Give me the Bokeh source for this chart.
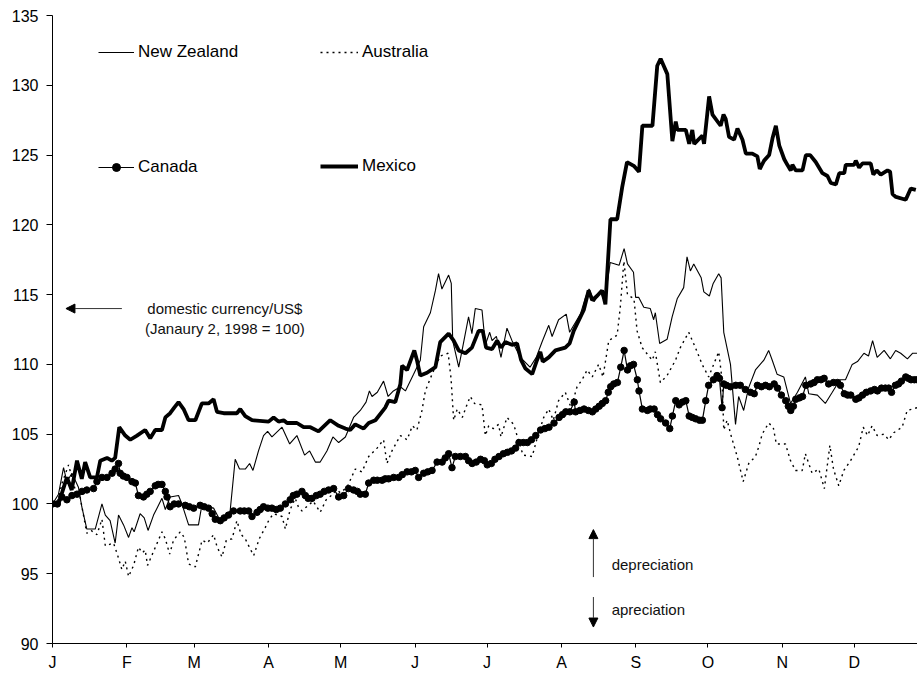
from bokeh.plotting import figure
from bokeh.models import Range1d, FixedTicker, Legend, LegendItem, Arrow, NormalHead, Label
from bokeh.embed import file_html
from bokeh.resources import INLINE

# ---------------- data (1998, day of year counted from Jan 1 = 0) ----------------
month_labels = ["J", "F", "M", "A", "M", "J", "J", "A", "S", "O", "N", "D"]
month_start = [0, 31, 59, 90, 120, 151, 181, 212, 243, 273, 304, 334]
y_ticks = [90, 95, 100, 105, 110, 115, 120, 125, 130, 135]

nz_day = [0, 2.5, 4.6, 6.0, 8.1, 10.8, 12.2, 14.3, 17.8, 20.6, 22.0, 24.0, 26.1, 27.5, 29.6, 31.7,
          33.1, 34.0, 36.5, 38.2, 39.8, 42.1, 45.6, 47.0, 49.0, 52.5, 53.9, 56.7, 60.8, 62.2, 67.1,
          69.9, 72.7, 74.0, 76.1, 77.9, 80.3, 82.1, 83.5, 85.8, 87.9, 89.6, 91.4, 95.6, 98.8, 101.8,
          105.0, 107.1, 109.5, 111.5, 114.3, 116.8, 119.2, 122.0, 125.4, 128.2, 130.6, 132.0, 133.1,
          135.3, 137.9, 139.8, 142.0, 144.9, 147.0, 150.4, 153.2, 154.6, 157.4, 159.5, 160.8, 162.2,
          165.0, 166.1, 166.7, 169.2, 170.6, 173.3, 174.7, 176.1, 178.9, 180.3, 182.1, 183.1, 184.9,
          186.8, 189.3, 191.4, 194.9, 198.9, 201.5, 203.9, 206.7, 208.1, 210.8, 214.0, 215.4, 217.8,
          219.9, 222.0, 223.5, 225.6, 228.3, 229.9, 232.3, 236.0, 238.1, 239.5, 242.0, 242.9, 244.2,
          246.3, 249.0, 250.4, 251.1, 252.9, 256.0, 258.1, 260.2, 262.9, 264.3, 265.7, 267.1, 270.2,
          271.3, 273.6, 275.2, 277.5, 278.5, 279.6, 282.4, 284.5, 285.8, 287.9, 289.9, 292.8, 296.3,
          298.3, 299.8, 301.8, 304.6, 307.4, 310.3, 313.6, 315.0, 318.6, 321.9, 324.8, 328.0, 330.3,
          333.1, 335.3, 338.0, 339.9, 341.6, 343.5, 346.4, 349.0, 351.2, 353.3, 356.1, 358.3, 360.2]
nz_val = [100.0, 100.7, 102.6, 101.6, 102.2, 101.2, 99.8, 98.2, 98.2, 100.0, 99.2, 98.8, 97.2, 99.2,
          98.5, 97.6, 98.3, 98.0, 99.3, 99.0, 98.1, 99.2, 100.4, 99.6, 100.5, 100.6, 100.0, 98.5, 98.5,
          99.9, 99.7, 98.8, 99.2, 99.5, 103.2, 102.5, 102.5, 102.9, 102.4, 103.8, 104.9, 105.2, 104.8,
          105.5, 104.3, 104.9, 103.5, 103.8, 103.0, 103.0, 103.8, 104.8, 104.4, 104.8, 106.2, 106.7,
          107.3, 108.1, 107.7, 108.0, 108.8, 107.7, 108.1, 108.4, 108.1, 109.3, 110.3, 112.7, 113.7,
          115.3, 116.5, 115.4, 116.4, 115.8, 111.7, 109.8, 111.0, 113.4, 112.2, 114.0, 113.9, 111.4,
          112.3, 111.7, 112.0, 110.5, 112.6, 111.7, 110.5, 109.8, 110.5, 111.6, 112.8, 112.0, 113.2,
          113.6, 112.3, 113.0, 113.6, 114.8, 115.4, 114.5, 115.2, 114.5, 117.3, 117.1, 118.3, 117.2,
          116.6, 114.8, 114.8, 114.1, 114.0, 113.2, 113.7, 111.5, 111.8, 113.4, 114.7, 115.5, 117.7,
          116.7, 117.2, 116.2, 115.2, 114.9, 115.8, 116.5, 116.2, 112.3, 110.0, 105.7, 107.7, 106.7,
          108.3, 109.6, 110.3, 111.0, 110.3, 109.3, 109.1, 107.2, 108.0, 109.1, 107.9, 107.8, 107.2,
          108.0, 108.9, 108.9, 110.0, 110.2, 110.8, 110.6, 111.7, 110.5, 111.0, 110.4, 111.0, 110.8,
          110.4, 110.8, 110.8]

au_day = [0, 2.4, 4.0, 6.7, 8.2, 9.5, 11.5, 14.3, 16.1, 18.5, 20.6, 22.0, 25.4, 27.0, 28.9, 30.3,
          31.7, 33.8, 35.8, 37.4, 38.6, 39.6, 42.1, 45.6, 47.0, 48.8, 50.4, 53.2, 54.9, 56.7, 59.5,
          62.3, 64.5, 67.1, 68.6, 70.6, 72.4, 74.8, 76.8, 78.6, 80.3, 82.0, 83.8, 86.1, 88.6, 90.3,
          92.1, 95.6, 97.0, 99.0, 101.1, 102.4, 103.9, 106.5, 108.6, 111.5, 114.0, 116.1, 118.5,
          119.9, 122.7, 124.0, 126.1, 128.9, 131.7, 135.2, 137.9, 139.3, 141.4, 144.9, 147.7, 149.9,
          151.8, 153.9, 155.3, 158.1, 161.5, 164.8, 166.0, 167.1, 168.6, 170.7, 172.4, 174.0, 175.8,
          178.9, 180.3, 181.7, 183.6, 185.8, 186.8, 189.3, 192.1, 193.5, 196.0, 199.8, 202.0, 204.6,
          206.7, 208.6, 210.8, 213.6, 216.0, 218.5, 220.6, 222.7, 224.8, 227.5, 229.3, 231.7, 235.2,
          236.5, 238.0, 239.5, 242.2, 243.5, 245.6, 249.8, 251.1, 253.2, 256.0, 259.5, 261.5, 265.0,
          267.8, 270.6, 273.3, 275.4, 277.5, 278.9, 279.6, 281.0, 282.8, 285.2, 287.7, 290.0, 292.8,
          294.2, 295.6, 298.3, 300.2, 301.5, 303.2, 305.3, 307.4, 309.5, 312.3, 313.6, 316.4, 319.2,
          321.5, 323.8, 325.3, 327.5, 329.6, 332.4, 335.8, 337.7, 339.5, 341.4, 343.5, 346.3, 348.3,
          350.4, 353.9, 356.0, 358.1, 360.2]
au_val = [100.0, 100.3, 101.5, 102.8, 101.8, 101.0, 100.5, 97.9, 98.1, 97.8, 98.9, 97.0, 97.2, 96.4,
          95.3, 95.9, 94.8, 95.6, 96.9, 96.5, 96.7, 95.6, 96.6, 98.0, 97.5, 96.4, 97.4, 98.0, 97.6,
          95.7, 95.5, 97.4, 97.2, 97.8, 96.9, 96.2, 97.4, 97.5, 98.8, 97.8, 97.5, 96.9, 96.3, 97.5,
          98.3, 98.9, 99.3, 99.1, 98.2, 99.6, 100.4, 99.8, 99.5, 99.9, 100.2, 99.4, 100.3, 100.6,
          101.0, 100.8, 101.2, 101.7, 102.5, 102.3, 103.4, 104.0, 104.6, 102.9, 103.8, 104.9, 104.6,
          105.6, 105.3, 106.7, 108.1, 109.3, 110.6, 110.8, 109.0, 106.0, 106.8, 106.2, 107.0, 107.7,
          107.2, 107.1, 104.9, 105.6, 105.4, 105.7, 104.8, 106.2, 105.7, 104.9, 103.5, 103.4, 104.8,
          106.2, 106.8, 106.0, 107.4, 108.0, 106.9, 108.4, 108.9, 109.6, 109.1, 110.0, 109.1, 111.7,
          112.1, 114.1, 117.4, 115.0, 114.7, 112.4, 111.2, 110.3, 110.9, 108.7, 109.2, 110.3, 111.2,
          112.3, 111.2, 110.0, 109.1, 110.0, 110.9, 108.9, 105.3, 106.0, 104.8, 103.4, 101.6, 102.9,
          103.4, 104.1, 105.0, 105.8, 105.5, 104.3, 104.3, 104.3, 103.1, 102.4, 102.4, 103.6, 102.2,
          102.5, 101.1, 104.2, 102.5, 101.3, 102.4, 103.1, 104.1, 105.5, 104.9, 105.6, 104.9, 105.0,
          104.6, 105.1, 105.5, 106.7, 106.8, 106.9]

ca_day = [0, 2.0, 3.9, 6.0, 8.1, 10.2, 12.3, 14.3, 17.1, 18.5, 20.6, 22.7, 24.8, 26.1, 27.5, 28.2,
          29.5, 31.0, 33.1, 34.5, 35.8, 37.9, 39.3, 40.7, 42.8, 44.0, 45.6, 47.0, 47.7, 49.0, 50.7,
          52.5, 55.3, 57.0, 58.8, 61.5, 63.2, 65.0, 66.5, 67.8, 69.9, 71.5, 73.3, 75.4, 78.2, 79.9,
          81.7, 83.1, 85.2, 86.5, 87.9, 89.7, 91.4, 93.2, 94.9, 97.0, 99.0, 100.3, 101.8, 103.9,
          105.3, 106.5, 108.1, 109.9, 111.5, 113.2, 115.0, 117.1, 119.2, 121.3, 123.3, 125.4, 127.0,
          128.2, 130.3, 131.7, 133.8, 135.3, 137.3, 138.6, 140.0, 142.1, 144.2, 145.7, 147.7, 149.5,
          151.1, 152.5, 154.6, 156.3, 158.1, 160.2, 162.3, 163.6, 165.0, 166.4, 167.8, 169.9, 172.0,
          173.3, 174.8, 176.5, 178.3, 179.9, 181.1, 182.8, 184.3, 186.0, 187.8, 189.5, 191.2, 192.9,
          194.3, 196.1, 197.8, 199.5, 201.3, 203.3, 205.1, 206.8, 208.9, 211.0, 212.4, 213.8, 215.5,
          217.3, 217.9, 219.7, 221.4, 223.2, 224.9, 226.3, 227.7, 229.0, 230.4, 231.5, 232.5, 233.8,
          235.3, 236.7, 238.1, 239.5, 240.7, 242.0, 243.6, 244.3, 245.7, 247.8, 249.0, 250.6, 252.0,
          253.3, 255.4, 257.1, 258.2, 259.6, 261.0, 262.4, 263.8, 265.2, 266.5, 267.9, 269.5, 270.7,
          272.1, 273.3, 275.3, 276.8, 277.8, 278.9, 279.6, 280.7, 282.4, 284.6, 286.5, 288.6, 290.7,
          292.3, 293.6, 295.3, 297.0, 298.6, 300.6, 302.0, 303.6, 305.4, 306.5, 307.5, 308.6, 309.6,
          311.1, 312.4, 313.8, 315.8, 317.2, 318.6, 320.1, 321.4, 323.3, 325.3, 327.0, 328.2, 329.8,
          331.2, 332.5, 334.6, 335.9, 337.4, 339.0, 340.8, 342.4, 343.6, 345.3, 346.9, 348.3, 349.5,
          351.1, 352.4, 353.6, 355.4, 356.5, 357.6, 359.0, 360.2]
ca_val = [100.0, 100.0, 100.5, 100.3, 100.6, 100.7, 100.9, 101.0, 101.1, 101.6, 101.9, 101.9, 102.2,
          102.5, 102.9, 102.2, 102.0, 101.9, 101.6, 101.5, 100.6, 100.5, 100.7, 100.9, 101.3, 101.4,
          101.4, 100.9, 100.5, 99.8, 100.0, 100.0, 99.9, 99.8, 99.7, 99.9, 99.8, 99.7, 99.3, 98.9,
          98.8, 99.0, 99.2, 99.5, 99.5, 99.5, 99.5, 99.1, 99.4, 99.6, 99.8, 99.7, 99.7, 99.6, 99.7,
          100.0, 100.3, 100.6, 100.7, 100.9, 100.6, 100.4, 100.4, 100.6, 100.7, 100.9, 101.0, 101.1,
          100.5, 100.6, 101.1, 101.0, 100.9, 100.7, 100.7, 101.5, 101.7, 101.7, 101.7, 101.8, 101.8,
          101.9, 101.9, 102.1, 102.3, 102.3, 102.4, 101.9, 102.2, 102.3, 102.4, 103.0, 103.0, 103.3,
          103.6, 102.6, 103.4, 103.4, 103.4, 103.1, 102.9, 103.0, 103.2, 103.1, 102.8, 102.9, 103.2,
          103.4, 103.6, 103.7, 103.8, 104.0, 104.4, 104.4, 104.4, 104.6, 104.9, 105.3, 105.4, 105.5,
          105.8, 106.2, 106.4, 106.6, 106.6, 107.3, 106.6, 106.7, 106.8, 106.7, 106.6, 106.8, 107.0,
          107.2, 107.4, 108.0, 108.4, 108.6, 108.7, 109.8, 111.0, 109.6, 109.9, 110.0, 108.9, 108.1,
          106.8, 106.7, 106.8, 106.8, 106.4, 106.1, 105.8, 105.4, 106.3, 107.4, 107.1, 107.3, 107.4,
          106.3, 106.2, 106.1, 106.0, 106.0, 107.4, 108.5, 108.9, 109.2, 109.0, 106.9, 108.6, 108.5,
          108.4, 108.5, 108.5, 108.2, 108.0, 107.9, 108.5, 108.4, 108.5, 108.4, 108.6, 108.3, 107.8,
          107.4, 107.0, 106.7, 107.0, 107.5, 107.6, 107.7, 108.5, 108.6, 108.7, 108.9, 108.9, 109.0,
          108.6, 108.7, 108.7, 108.5, 107.9, 107.8, 107.8, 107.5, 107.6, 107.8, 108.0, 108.1, 108.2,
          108.1, 108.3, 108.3, 108.3, 108.0, 108.5, 108.6, 108.8, 109.1, 109.0, 108.9, 108.9, 108.9]

mx_day = [0, 2.5, 6, 8, 10.2, 12.2, 13.6, 15.7, 18.5, 19.9, 22.7, 24.7, 26.1, 27.8, 30.3, 32.4, 35.2,
          38.6, 40.7, 42.8, 45.6, 47, 49, 50.7, 52.5, 54.6, 56.7, 59.5, 62.2, 65, 67.1, 68.5, 71.3,
          76.8, 78.2, 80.3, 83.1, 90, 92.1, 94.2, 96.3, 97.7, 101.8, 104.6, 107.4, 110.8, 115.7,
          119.2, 122, 124, 126.1, 129.6, 131.7, 134.5, 138.6, 140, 142.8, 144.9, 145.6, 147.7, 150.7,
          151.8, 153.2, 156, 159.5, 161.5, 165, 167.1, 169.2, 172, 174.7, 177.5, 179.2, 180.6, 183.1,
          185.2, 186.8, 188.6, 191.4, 193.5, 195.2, 197, 199.8, 201.8, 203.2, 204.2, 206.7, 209.5,
          213.6, 215.4, 217.1, 219.9, 221.3, 223.3, 224.8, 226.8, 228.9, 230.3, 232.4, 235.2, 237.3,
          239.3, 242.3, 244.3, 245.7, 249.9, 251.9, 253.3, 256.1, 258.2, 259.6, 260.3, 263.8, 265.2,
          266.5, 267.3, 270.7, 271.4, 273.5, 274.9, 278.3, 279.5, 280.4, 281.8, 283.9, 285.3, 287.4,
          288.8, 291.5, 293.6, 294.6, 296.4, 298.5, 299.9, 301.3, 302.7, 304.8, 306.1, 307.5, 308.2,
          309.6, 312.4, 313.8, 315.6, 317.9, 320.7, 322.8, 324.2, 326.3, 327.7, 329.8, 330.4, 333.9,
          334.6, 336, 337.4, 340.8, 341.9, 343.3, 345, 347.8, 348.9, 349.9, 351.3, 355.4, 357.5, 359.6]
mx_val = [100.0, 100.0, 101.9, 101.0, 103.1, 101.8, 103.0, 101.9, 101.9, 103.1, 103.3, 103.1, 103.3,
          105.5, 104.9, 104.6, 104.9, 105.3, 104.7, 105.3, 105.3, 106.2, 106.5, 106.9, 107.3, 106.8,
          106.0, 106.0, 107.2, 107.2, 107.5, 106.6, 106.5, 106.5, 106.8, 106.3, 106.0, 105.9, 106.2,
          105.9, 106.0, 105.8, 105.8, 105.5, 105.5, 105.2, 106.0, 105.6, 105.4, 105.3, 105.7, 105.4,
          105.8, 106.0, 106.9, 107.4, 107.3, 108.6, 109.9, 109.6, 111.0, 110.3, 109.2, 109.4, 109.8,
          111.6, 112.2, 111.7, 111.0, 110.8, 111.2, 112.4, 112.4, 111.2, 111.1, 111.7, 111.2, 111.6,
          111.4, 111.5, 110.3, 109.7, 109.3, 110.3, 110.9, 110.2, 110.5, 111.0, 111.2, 111.5, 112.4,
          113.4, 113.9, 115.3, 114.6, 114.9, 115.3, 114.3, 120.4, 120.4, 122.7, 124.5, 124.2, 123.8,
          127.1, 127.1, 131.4, 131.9, 130.8, 126.0, 127.4, 126.8, 126.8, 125.8, 126.8, 125.8, 126.4,
          125.8, 129.2, 127.9, 127.1, 127.9, 127.6, 126.3, 126.1, 126.9, 126.1, 125.1, 125.1, 124.9,
          124.0, 124.6, 125.0, 126.2, 127.1, 125.7, 124.7, 124.3, 123.9, 124.3, 123.9, 123.9, 125.0,
          125.0, 124.5, 123.7, 123.5, 123.0, 122.9, 123.7, 123.7, 124.3, 124.3, 124.6, 124.1, 124.4,
          124.4, 123.6, 123.9, 123.6, 123.9, 123.8, 122.2, 122.0, 121.8, 122.6, 122.5]

FONT = "Liberation Sans"

p = figure(width=917, height=673,
           x_range=Range1d(0, 360.3), y_range=Range1d(90, 135),
           output_backend="svg", toolbar_location=None,
           min_border_left=52, min_border_right=0, min_border_top=15, min_border_bottom=29)
p.grid.visible = False
p.outline_line_color = None
p.background_fill_color = "white"
p.border_fill_color = "white"

# axes
p.yaxis.ticker = FixedTicker(ticks=y_ticks)
p.yaxis.major_tick_out = 6
p.yaxis.major_tick_in = 0
p.yaxis.minor_tick_line_color = None
p.yaxis.major_label_standoff = 8
p.yaxis.major_label_text_font = FONT
p.yaxis.major_label_text_font_size = "16px"
p.yaxis.major_label_text_color = "black"
p.yaxis.axis_line_color = "black"
p.yaxis.major_tick_line_color = "black"

p.xaxis.ticker = FixedTicker(ticks=month_start)
p.xaxis.major_label_overrides = {d: m for d, m in zip(month_start, month_labels)}
p.xaxis.major_tick_out = 4
p.xaxis.major_tick_in = 0
p.xaxis.minor_tick_line_color = None
p.xaxis.major_label_standoff = 6
p.xaxis.major_label_text_font = FONT
p.xaxis.major_label_text_font_size = "16px"
p.xaxis.major_label_text_color = "black"
p.xaxis.axis_line_color = "black"
p.xaxis.major_tick_line_color = "black"

# series
r_au = p.line(au_day, au_val, line_color="black", line_width=1.4, line_dash="2 4")
r_nz = p.line(nz_day, nz_val, line_color="black", line_width=1.1)
r_mx = p.line(mx_day, mx_val, line_color="black", line_width=3.8)
r_ca = p.line(ca_day, ca_val, line_color="black", line_width=1.2)
r_ca_m = p.scatter(ca_day, ca_val, size=6.5, marker="circle", fill_color="black", line_color="black")


def add_legend(label, rends, x, y, gw):
    leg = Legend(items=[LegendItem(label=label, renderers=rends)], location=(x, y),
                 padding=0, margin=0, spacing=0, border_line_color=None,
                 background_fill_alpha=0, glyph_width=gw, glyph_height=20, label_height=20,
                 label_standoff=4, label_text_font=FONT, label_text_font_size="17px",
                 label_text_color="black")
    p.add_layout(leg)


add_legend("New Zealand", [r_nz], 46, 581, 36)
add_legend("Australia", [r_au], 268, 581, 38)
add_legend("Canada", [r_ca, r_ca_m], 46, 466, 36)
add_legend("Mexico", [r_mx], 268, 467, 38)

# annotations
p.add_layout(Arrow(end=NormalHead(size=9, fill_color="black", line_color="black", line_width=1),
                   x_start=28.9, y_start=114.0, x_end=5.6, y_end=114.0,
                   line_color="#333333", line_width=1))
p.add_layout(Label(x=71.8, y=114.0, text="domestic currency/US$", text_align="center",
                   text_baseline="middle", text_font=FONT, text_font_size="15px",
                   text_color="#111111"))
p.add_layout(Label(x=71.8, y=112.6, text="(Janaury 2, 1998 = 100)", text_align="center",
                   text_baseline="middle", text_font=FONT, text_font_size="15px",
                   text_color="#111111"))

p.add_layout(Arrow(end=NormalHead(size=9, fill_color="black", line_color="black", line_width=1),
                   x_start=225.3, y_start=94.76, x_end=225.3, y_end=98.16,
                   line_color="#333333", line_width=1))
p.add_layout(Arrow(end=NormalHead(size=9, fill_color="black", line_color="black", line_width=1),
                   x_start=225.3, y_start=93.33, x_end=225.3, y_end=91.18,
                   line_color="#333333", line_width=1))
p.add_layout(Label(x=232.9, y=95.65, text="depreciation", text_align="left",
                   text_baseline="middle", text_font=FONT, text_font_size="15px",
                   text_color="#111111"))
p.add_layout(Label(x=232.9, y=92.43, text="apreciation", text_align="left",
                   text_baseline="middle", text_font=FONT, text_font_size="15px",
                   text_color="#111111"))

open("out.html", "w").write(file_html(p, INLINE))
